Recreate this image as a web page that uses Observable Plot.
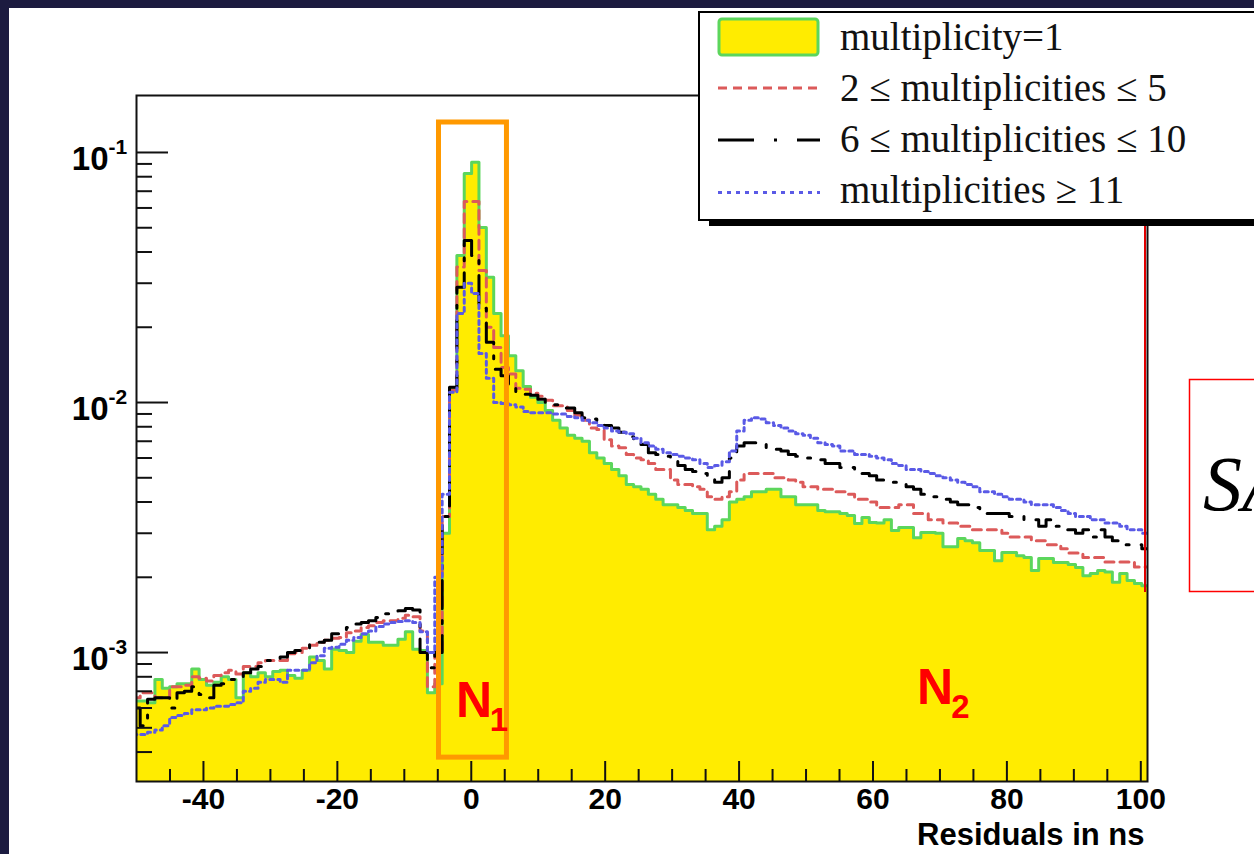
<!DOCTYPE html>
<html><head><meta charset="utf-8">
<script src="https://cdn.jsdelivr.net/npm/d3@7"></script>
<script src="https://cdn.jsdelivr.net/npm/@observablehq/plot@0.6"></script>
<style>
html,body{margin:0;padding:0;background:#1c1b40;width:1254px;height:854px;overflow:hidden;}
#page{position:relative;width:1254px;height:854px;}
#paper{position:absolute;left:9px;top:8px;width:1245px;height:846px;background:#fff;}
#chart{position:absolute;left:0;top:0;}
#overlay{position:absolute;left:0;top:0;pointer-events:none;}
</style></head>
<body><div id="page"><div id="paper"></div><div id="chart"></div><svg id="overlay" width="1254" height="854"></svg></div>
<script>
// Histogram binning (ns)
const binStart = -50.55, binWidth = 1.1;
const xDomain = [-50, 101];
const yDomain = [3.05e-4, 0.169];

// multiplicity = 1
const mult1 = [
0.00064,0.00064,0.00063,0.00078,0.00072,0.00073,0.00075,0.00075,0.00086,0.00078,
0.00074,0.00076,0.00080,0.00078,0.00066,0.00083,0.00080,0.00083,0.00080,0.00084,
0.00085,0.00081,0.00079,0.00085,0.00096,0.00093,0.00086,0.00103,0.00102,0.00100,
0.00111,0.00118,0.00110,0.00110,0.00107,0.00107,0.00113,0.00121,0.00103,0.00102,
0.00069,0.00075,0.0030,0.0113,0.0387,0.0824,0.0915,0.0501,0.0317,0.0227,
0.0185,0.0154,0.0134,0.0116,0.0105,0.0100,0.0093,0.0085,0.0079,0.0074,
0.0072,0.0070,0.0063,0.0060,0.0057,0.0054,0.0051,0.0047,0.0046,0.0045,
0.0043,0.0041,0.0039,0.0039,0.0038,0.0037,0.0036,0.0036,0.0031,0.0032,
0.0034,0.0040,0.0041,0.0042,0.0044,0.0044,0.0045,0.0045,0.0042,0.0042,
0.0039,0.0039,0.0039,0.0037,0.00366,0.00366,0.0036,0.00353,0.00328,0.00347,
0.00331,0.0033,0.0034,0.00308,0.00316,0.00316,0.00288,0.00302,0.00302,0.0030,
0.00265,0.00265,0.00286,0.0028,0.00275,0.00256,0.00256,0.00233,0.00251,0.00251,
0.00244,0.0024,0.00213,0.00238,0.00238,0.00229,0.00229,0.00225,0.00219,0.00203,
0.00207,0.00213,0.0021,0.00191,0.00207,0.00194,0.00189,0.00185];

// 2 <= multiplicities <= 5
const mult2to5 = [
0.00066,0.00069,0.00069,0.00066,0.00066,0.00073,0.00073,0.00074,0.00080,0.00079,
0.00077,0.00081,0.00083,0.00085,0.00082,0.00088,0.00088,0.00091,0.00093,0.00093,
0.00093,0.00099,0.00100,0.00104,0.00107,0.00110,0.00112,0.00114,0.00115,0.00120,
0.00122,0.00126,0.00128,0.00132,0.00134,0.00134,0.00137,0.00141,0.00139,0.00122,
0.00073,0.0010,0.0035,0.0112,0.0348,0.0637,0.0637,0.0337,0.0200,0.0166,
0.0138,0.0130,0.0114,0.0113,0.0109,0.0106,0.0102,0.0097,0.0097,0.0093,
0.0089,0.0085,0.0079,0.0078,0.0071,0.0067,0.0066,0.0062,0.0060,0.0059,
0.0057,0.0054,0.0054,0.0049,0.0047,0.0047,0.0046,0.0045,0.0042,0.0041,
0.0042,0.0044,0.0049,0.0052,0.0052,0.0052,0.0052,0.0050,0.0050,0.0049,
0.0048,0.0046,0.0046,0.0045,0.0045,0.0044,0.0044,0.0043,0.0041,0.0041,
0.0040,0.0038,0.0038,0.0038,0.0039,0.0039,0.0036,0.0036,0.0034,0.0034,
0.0033,0.0033,0.0032,0.0032,0.0031,0.0031,0.0031,0.0031,0.0030,0.0029,
0.0029,0.0029,0.0028,0.0028,0.0027,0.0027,0.0026,0.0025,0.0025,0.0024,
0.0024,0.0024,0.0023,0.0023,0.0023,0.0023,0.0022,0.0022];

// 6 <= multiplicities <= 10
const mult6to10 = [
0.00060,0.00051,0.00065,0.00066,0.00066,0.00060,0.00069,0.00070,0.00073,0.00068,
0.00066,0.00074,0.00075,0.00078,0.00080,0.00083,0.00086,0.00088,0.00093,0.00093,
0.00096,0.00100,0.00102,0.00102,0.00110,0.00110,0.00112,0.00119,0.00120,0.00126,
0.00130,0.00132,0.00134,0.00138,0.00143,0.00146,0.00147,0.00150,0.00148,0.00100,
0.00087,0.0010,0.0035,0.0115,0.0289,0.0445,0.0387,0.0238,0.0174,0.0136,
0.0128,0.0114,0.0110,0.0108,0.0107,0.0103,0.0100,0.0098,0.0095,0.0095,
0.0091,0.0087,0.0086,0.0083,0.0081,0.0079,0.0076,0.0073,0.0069,0.0068,
0.0063,0.0062,0.0061,0.0060,0.0056,0.0054,0.0053,0.0052,0.0051,0.0048,
0.0050,0.0060,0.0067,0.0069,0.0069,0.0069,0.0066,0.0065,0.0064,0.0062,
0.0061,0.0060,0.0060,0.0059,0.0057,0.0057,0.0055,0.0055,0.0052,0.0052,
0.0051,0.0049,0.0048,0.0048,0.0047,0.0046,0.0045,0.0043,0.0042,0.0042,
0.0041,0.0040,0.0039,0.0039,0.0038,0.0037,0.0036,0.0036,0.0036,0.0035,
0.0035,0.0034,0.0034,0.0032,0.0034,0.0032,0.0031,0.0031,0.0030,0.0031,
0.0029,0.0031,0.0029,0.0028,0.0027,0.0027,0.0027,0.0026];

// multiplicities >= 11
const mult11plus = [
0.00047,0.00047,0.00048,0.00049,0.00051,0.00055,0.00056,0.00057,0.00059,0.00059,
0.00060,0.00061,0.00061,0.00062,0.00063,0.00070,0.00072,0.00076,0.00078,0.00078,
0.00076,0.00085,0.00085,0.00085,0.00091,0.00097,0.00104,0.00105,0.00108,0.00112,
0.00115,0.00119,0.00122,0.00127,0.00130,0.00132,0.00133,0.00134,0.00132,0.00121,
0.00100,0.0020,0.0043,0.0110,0.0227,0.0300,0.0273,0.0157,0.0125,0.0100,
0.0099,0.0098,0.0096,0.0092,0.0091,0.0091,0.0091,0.0090,0.0090,0.0088,
0.0087,0.0085,0.0083,0.0081,0.0079,0.0077,0.0076,0.0075,0.0072,0.0069,
0.0067,0.0065,0.0063,0.0062,0.0061,0.0060,0.0059,0.0057,0.0055,0.0056,
0.0058,0.0064,0.0077,0.0085,0.0087,0.0086,0.0083,0.0081,0.0079,0.0077,
0.0075,0.0074,0.0072,0.0069,0.0068,0.0067,0.0064,0.0064,0.0062,0.0062,
0.0061,0.0060,0.0059,0.0057,0.0056,0.0054,0.0054,0.0053,0.0052,0.0051,
0.0050,0.0049,0.0048,0.0047,0.0046,0.0044,0.0044,0.0043,0.0042,0.0041,
0.0041,0.0040,0.0039,0.0039,0.0039,0.0038,0.0037,0.0036,0.0035,0.0035,
0.0034,0.0034,0.0033,0.0033,0.0032,0.0031,0.0031,0.0030];

// Axis ticks and labels
const xMajorTicks = [-40, -20, 0, 20, 40, 60, 80, 100];
const xMinorTicks = [-45,-35,-30,-25,-15,-10,-5,5,10,15,25,30,35,45,50,55,65,70,75,85,90,95];
const yMajorTicks = [0.001, 0.01, 0.1];
const yExponents = ["-3", "-2", "-1"];
const yMinorTicks = [0.0004,0.0005,0.0006,0.0007,0.0008,0.0009,
  0.002,0.003,0.004,0.005,0.006,0.007,0.008,0.009,
  0.02,0.03,0.04,0.05,0.06,0.07,0.08,0.09];
const xLabel = "Residuals in ns";

// Annotations
const n1Box = [{x1: -4.82, x2: 5.33, y1: 3.8e-4, y2: 0.1318}];
const nMain = [{x: 0.4, y: 6.43e-4, t: "N"}, {x: 69.26, y: 7.21e-4, t: "N"}];
const nSub = [{x: 4.14, y: 5.35e-4, t: "1"}, {x: 73.07, y: 6.05e-4, t: "2"}];

const legendLabels = ["multiplicity=1", "2 \u2264 multiplicities \u2264 5", "6 \u2264 multiplicities \u2264 10", "multiplicities \u2265 11"];

const YELLOW = "#ffec00", GREEN = "#5cd65c", RED = "#dc5a5a", BLACK = "#000", BLUE = "#5a5ae6", ORANGE = "#ff9900";
const SANS = "Liberation Sans, Arial, Helvetica, sans-serif";
const SERIF = "Liberation Serif, Times New Roman, serif";

function stepRows(values) {
  const rows = values.map((v, i) => ({x: binStart + i * binWidth, v}));
  rows.push({x: binStart + values.length * binWidth, v: values[values.length - 1]});
  return rows;
}

const W = 1254, H = 854, mL = 136, mR = 107, mT = 95, mB = 73;
const fw = W - mL - mR, fh = H - mT - mB;

const r1 = stepRows(mult1), r2 = stepRows(mult2to5), r3 = stepRows(mult6to10), r4 = stepRows(mult11plus);

const chart = Plot.plot({
  width: W, height: H,
  marginLeft: mL, marginRight: mR, marginTop: mT, marginBottom: mB,
  x: {domain: xDomain, axis: null},
  y: {type: "log", domain: yDomain, axis: null},
  style: {background: "transparent", overflow: "visible"},
  marks: [
    Plot.areaY(r1, {x: "x", y1: yDomain[0], y2: "v", curve: "step-after", fill: YELLOW, clip: true}),
    Plot.lineY(r1, {x: "x", y: "v", curve: "step-after", stroke: GREEN, strokeWidth: 3, clip: true}),
    Plot.lineY(r2, {x: "x", y: "v", curve: "step-after", stroke: RED, strokeWidth: 3, strokeDasharray: "9,6", clip: true}),
    Plot.lineY(r3, {x: "x", y: "v", curve: "step-after", stroke: BLACK, strokeWidth: 3, strokeDasharray: "28,12,3,12", clip: true}),
    Plot.lineY(r4, {x: "x", y: "v", curve: "step-after", stroke: BLUE, strokeWidth: 3, strokeDasharray: "4,4", clip: true}),
    Plot.tickY(yMajorTicks, {y: d => d, stroke: "#111", strokeWidth: 2, insetRight: fw - 32}),
    Plot.tickY(yMinorTicks, {y: d => d, stroke: "#111", strokeWidth: 2, insetRight: fw - 16}),
    Plot.tickX(xMajorTicks, {x: d => d, stroke: "#111", strokeWidth: 2, insetTop: fh - 20}),
    Plot.tickX(xMinorTicks, {x: d => d, stroke: "#111", strokeWidth: 2, insetTop: fh - 12}),
    Plot.frame({stroke: "#111", strokeWidth: 2}),
    Plot.rect(n1Box, {x1: "x1", x2: "x2", y1: "y1", y2: "y2", fill: "none", stroke: ORANGE, strokeWidth: 5}),
    Plot.text(yMajorTicks, {y: d => d, frameAnchor: "left", text: () => "10", textAnchor: "end", dx: -28, dy: 7,
      fontSize: 33, fontWeight: "bold", fontFamily: SANS, fill: "#000"}),
    Plot.text(yMajorTicks, {y: d => d, frameAnchor: "left", text: (d, i) => yExponents[i], textAnchor: "start", dx: -28, dy: -5,
      fontSize: 21, fontWeight: "bold", fontFamily: SANS, fill: "#000"}),
    Plot.text(xMajorTicks, {x: d => d, frameAnchor: "bottom", text: d => String(d), dy: 27,
      fontSize: 30, fontWeight: "bold", fontFamily: SANS, fill: "#000"}),
    Plot.text([xLabel], {frameAnchor: "bottom-right", text: d => d, textAnchor: "end", dx: -3, dy: 63,
      fontSize: 31, fontWeight: "bold", fontFamily: SANS, fill: "#000"}),
    Plot.text(nMain, {x: "x", y: "y", text: "t", fontSize: 50, fontWeight: "bold", fontFamily: SANS, fill: "#ff0000"}),
    Plot.text(nSub, {x: "x", y: "y", text: "t", fontSize: 33, fontWeight: "bold", fontFamily: SANS, fill: "#ff0000"})
  ]
});
document.getElementById("chart").appendChild(chart);

// Overlay: legend, slide elements
const ov = d3.select("#overlay");
ov.append("line").attr("x1", 1145).attr("x2", 1145).attr("y1", 226).attr("y2", 592).attr("stroke", "#e00000").attr("stroke-width", 2);
ov.append("rect").attr("x", 709).attr("y", 18).attr("width", 620).attr("height", 208).attr("fill", "#000");
ov.append("rect").attr("x", 699).attr("y", 12).attr("width", 620).attr("height", 208).attr("fill", "#fff").attr("stroke", "#000").attr("stroke-width", 2);
ov.append("rect").attr("x", 719).attr("y", 19).attr("width", 99).attr("height", 36).attr("rx", 3)
  .attr("fill", YELLOW).attr("stroke", GREEN).attr("stroke-width", 3);
const swatches = [
  {y: 88, stroke: RED, dash: "9,6"},
  {y: 140, stroke: BLACK, dash: "36,20,3,20"},
  {y: 192.5, stroke: BLUE, dash: "4,5"}
];
swatches.forEach(s => ov.append("line").attr("x1", 718).attr("x2", 820).attr("y1", s.y).attr("y2", s.y)
  .attr("stroke", s.stroke).attr("stroke-width", 3).attr("stroke-dasharray", s.dash));
const baselines = [50, 100.5, 152, 203];
legendLabels.forEach((t, i) => ov.append("text").attr("x", 840).attr("y", baselines[i])
  .attr("font-family", SERIF).attr("font-size", 39).attr("fill", "#111").text(t));
ov.append("rect").attr("x", 1189.5).attr("y", 379.5).attr("width", 200).attr("height", 212)
  .attr("fill", "none").attr("stroke", "#ff0000").attr("stroke-width", 1.5);
ov.append("text").attr("x", 1203).attr("y", 510).attr("font-family", SERIF).attr("font-style", "italic")
  .attr("font-size", 78).attr("fill", "#000").text("SA");
</script></body></html>
